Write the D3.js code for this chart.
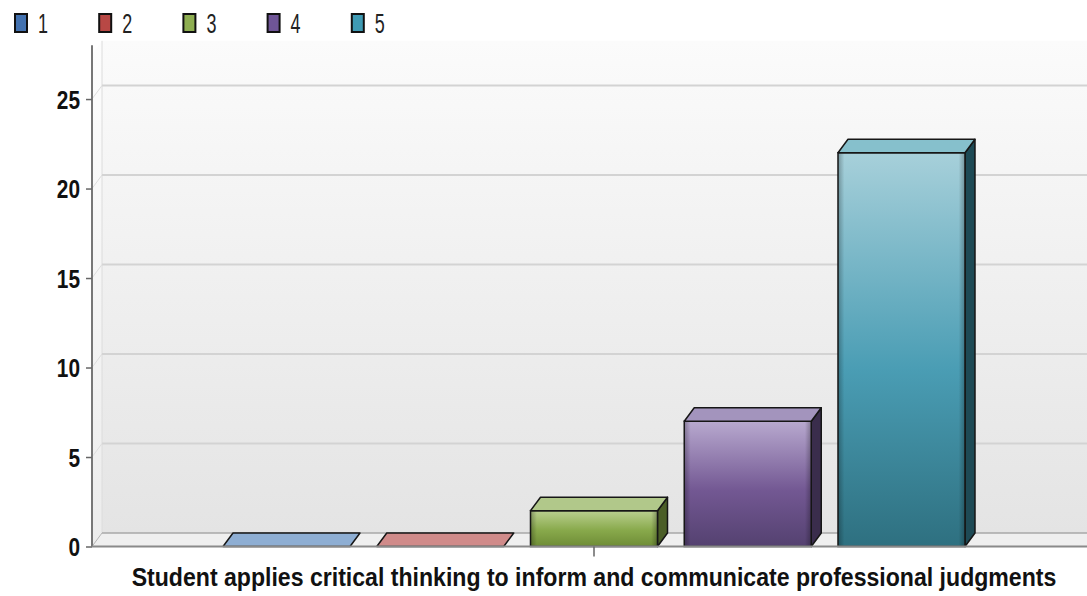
<!DOCTYPE html>
<html>
<head>
<meta charset="utf-8">
<script src="https://cdn.jsdelivr.net/npm/d3@7"></script>
<style>
  html, body { margin: 0; padding: 0; background: #ffffff; }
  svg { display: block; }
  text { font-family: "Liberation Sans", Arial, sans-serif; }
</style>
</head>
<body>
<script>
// ---- data ----
const categories = ["Student applies critical thinking to inform and communicate professional judgments"];
const seriesNames = ["1", "2", "3", "4", "5"];
const values = [0, 0, 2, 7, 22];
const yTicks = [0, 5, 10, 15, 20, 25];
const yMax = 27.5;

// ---- colours per series ----
const legendFill = ["#4372b0", "#b84845", "#8eae51", "#6f5597", "#3f9bb4"];
const frontTop   = ["#9ab8dc", "#dc9e9c", "#bad090", "#b8a9cf", "#a7d0da"];
const frontMid   = ["#4f81bd", "#c0504d", "#88a94b", "#735893", "#4a9db4"];
const frontBot   = ["#355f92", "#8f3a38", "#6e8c36", "#544170", "#2e7080"];
const sideFill   = ["#2c4d75", "#6e2b29", "#4b5e27", "#3a2d4c", "#1e4a55"];
const topFill    = ["#8eaed3", "#d08b8a", "#b1c88a", "#a394bd", "#86c0cc"];

const W = 1087, H = 596;
const dx = 10, dy = -13.5;
const FONT = '"Liberation Sans", Arial, sans-serif';

const svg = d3.select("body").append("svg").attr("width", W).attr("height", H);
const defs = svg.append("defs");

const y = d3.scaleLinear().domain([0, yMax]).range([546.5, 54.3]);
const x0 = d3.scaleBand().domain(categories).range([92, 1096]).paddingInner(0).paddingOuter(0.1513);
const x1 = d3.scaleBand().domain(seriesNames).range([0, x0.bandwidth()]).paddingInner(0.174).paddingOuter(0.0936);

const plotL = x0.range()[0];
const plotR = W + 20;
const y0 = y(0);
const yTop = y(yMax);

// squeeze a text horizontally to a target width (keeps it real text)
function squeeze(sel, targetWidth, anchorX) {
  sel.each(function(d) {
    const node = this;
    const tw = typeof targetWidth === "function" ? targetWidth(d) : targetWidth;
    const w = node.getComputedTextLength();
    const s = w > 0 ? tw / w : 1;
    d3.select(node).attr("x", 0).attr("transform", `translate(${anchorX},0) scale(${s},1)`);
  });
}

// wall gradient
const wg = defs.append("linearGradient").attr("id", "wallG").attr("x1", 0).attr("y1", 0).attr("x2", 0).attr("y2", 1);
wg.append("stop").attr("offset", "0%").attr("stop-color", "#fbfbfb");
wg.append("stop").attr("offset", "100%").attr("stop-color", "#e4e4e4");
const lg = defs.append("linearGradient").attr("id", "leftWallG").attr("x1", 0).attr("y1", 0).attr("x2", 0).attr("y2", 1);
lg.append("stop").attr("offset", "0%").attr("stop-color", "#fdfdfd");
lg.append("stop").attr("offset", "100%").attr("stop-color", "#ececec");

// bar gradients
seriesNames.forEach((s, i) => {
  const g = defs.append("linearGradient").attr("id", "fg" + i).attr("x1", 0).attr("y1", 0).attr("x2", 0).attr("y2", 1);
  g.append("stop").attr("offset", "0%").attr("stop-color", frontTop[i]);
  g.append("stop").attr("offset", "55%").attr("stop-color", frontMid[i]);
  g.append("stop").attr("offset", "100%").attr("stop-color", frontBot[i]);
});
const eg = defs.append("linearGradient").attr("id", "edgeG").attr("x1", 0).attr("y1", 0).attr("x2", 1).attr("y2", 0);
eg.append("stop").attr("offset", "0%").attr("stop-color", "#000").attr("stop-opacity", 0.28);
eg.append("stop").attr("offset", "5%").attr("stop-color", "#000").attr("stop-opacity", 0);
eg.append("stop").attr("offset", "95%").attr("stop-color", "#000").attr("stop-opacity", 0);
eg.append("stop").attr("offset", "100%").attr("stop-color", "#000").attr("stop-opacity", 0.28);

// back wall
svg.append("rect")
  .attr("x", plotL + dx).attr("y", yTop + dy)
  .attr("width", plotR - plotL).attr("height", y0 - yTop)
  .attr("fill", "url(#wallG)");
// left wall
svg.append("path")
  .attr("d", `M${plotL},${y0} L${plotL},${yTop} L${plotL + dx},${yTop + dy} L${plotL + dx},${y0 + dy} Z`)
  .attr("fill", "url(#leftWallG)");
svg.append("line")
  .attr("x1", plotL + dx).attr("x2", plotL + dx).attr("y1", yTop + dy).attr("y2", y0 + dy)
  .attr("stroke", "#dcdcdc").attr("stroke-width", 1);

// gridlines
const grid = svg.append("g");
yTicks.filter(t => t > 0).forEach(t => {
  grid.append("line")
    .attr("x1", plotL + dx).attr("x2", plotR)
    .attr("y1", y(t) + dy).attr("y2", y(t) + dy)
    .attr("stroke", "#d3d3d3").attr("stroke-width", 2);
  grid.append("line")
    .attr("x1", plotL).attr("x2", plotL + dx)
    .attr("y1", y(t)).attr("y2", y(t) + dy)
    .attr("stroke", "#dedede").attr("stroke-width", 1);
});

// floor
svg.append("path")
  .attr("d", `M${plotL},${y0} L${plotL + dx},${y0 + dy} L${plotR},${y0 + dy} L${plotR},${y0} Z`)
  .attr("fill", "#efefef");
svg.append("line")
  .attr("x1", plotL + dx).attr("x2", plotR).attr("y1", y0 + dy).attr("y2", y0 + dy)
  .attr("stroke", "#a9a9a9").attr("stroke-width", 1.5);
svg.append("line")
  .attr("x1", plotL).attr("x2", plotL + dx).attr("y1", y0).attr("y2", y0 + dy)
  .attr("stroke", "#b5b5b5").attr("stroke-width", 1);

// bars
const stroke = "#161616";
const barsG = svg.append("g");
categories.forEach(cat => {
  seriesNames.forEach((s, i) => {
    const v = values[i];
    const xl = x0(cat) + x1(s);
    const w = x1.bandwidth();
    const yt = y(v);
    const g = barsG.append("g");
    if (y0 - yt > 0.5) {
      g.append("path")
        .attr("d", `M${xl + w},${yt} L${xl + w + dx},${yt + dy} L${xl + w + dx},${y0 + dy} L${xl + w},${y0} Z`)
        .attr("fill", sideFill[i]).attr("stroke", stroke).attr("stroke-width", 1.5).attr("stroke-linejoin", "round");
      g.append("rect").attr("x", xl).attr("y", yt).attr("width", w).attr("height", y0 - yt)
        .attr("fill", `url(#fg${i})`);
      g.append("rect").attr("x", xl).attr("y", yt).attr("width", w).attr("height", y0 - yt)
        .attr("fill", "url(#edgeG)").attr("stroke", stroke).attr("stroke-width", 1.5);
    }
    g.append("path")
      .attr("d", `M${xl},${yt} L${xl + dx},${yt + dy} L${xl + w + dx},${yt + dy} L${xl + w},${yt} Z`)
      .attr("fill", topFill[i]).attr("stroke", stroke).attr("stroke-width", 1.5).attr("stroke-linejoin", "round");
  });
});

// axis line (front left) and bottom line
svg.append("line")
  .attr("x1", plotL).attr("x2", plotL).attr("y1", yTop - 9).attr("y2", y0)
  .attr("stroke", "#777").attr("stroke-width", 2);
svg.append("line")
  .attr("x1", plotL).attr("x2", plotR).attr("y1", y0).attr("y2", y0)
  .attr("stroke", "#8a8a8a").attr("stroke-width", 2);

// y axis
const yAxis = svg.append("g").attr("transform", `translate(${plotL},0)`)
  .call(d3.axisLeft(y).tickValues(yTicks).tickSize(6).tickPadding(6).tickFormat(d3.format("d")));
yAxis.select(".domain").remove();
yAxis.selectAll(".tick line").attr("stroke", "#666").attr("stroke-width", 1.5);
yAxis.selectAll(".tick text")
  .attr("font-family", FONT)
  .attr("font-size", 26).attr("font-weight", "bold").attr("fill", "#111").attr("dy", "0.36em")
  .call(squeeze, d => String(d).length * 11.6, -12);

// x axis
const xAxis = svg.append("g").attr("transform", `translate(0,${y0})`)
  .call(d3.axisBottom(x0).tickSize(10).tickPadding(0));
xAxis.select(".domain").remove();
xAxis.selectAll(".tick line").attr("stroke", "#666").attr("stroke-width", 1.5);
xAxis.selectAll(".tick text")
  .attr("font-family", FONT)
  .attr("font-size", 26).attr("font-weight", "bold").attr("fill", "#111")
  .attr("y", 40).attr("dy", 0)
  .call(squeeze, 925, 0);

// legend
const legend = svg.append("g");
const legX = d3.scaleBand().domain(seriesNames).range([15, 15 + 84.2 * 5]);
seriesNames.forEach((s, i) => {
  const lx = legX(s);
  legend.append("rect").attr("x", lx).attr("y", 14).attr("width", 12).attr("height", 18)
    .attr("fill", legendFill[i]).attr("stroke", "#111").attr("stroke-width", 2);
  legend.append("text").attr("y", 33)
    .attr("font-family", FONT)
    .attr("font-size", 27).attr("fill", "#222")
    .attr("text-anchor", "start")
    .text(s)
    .call(squeeze, 10, lx + 23);
});
</script>
</body>
</html>
